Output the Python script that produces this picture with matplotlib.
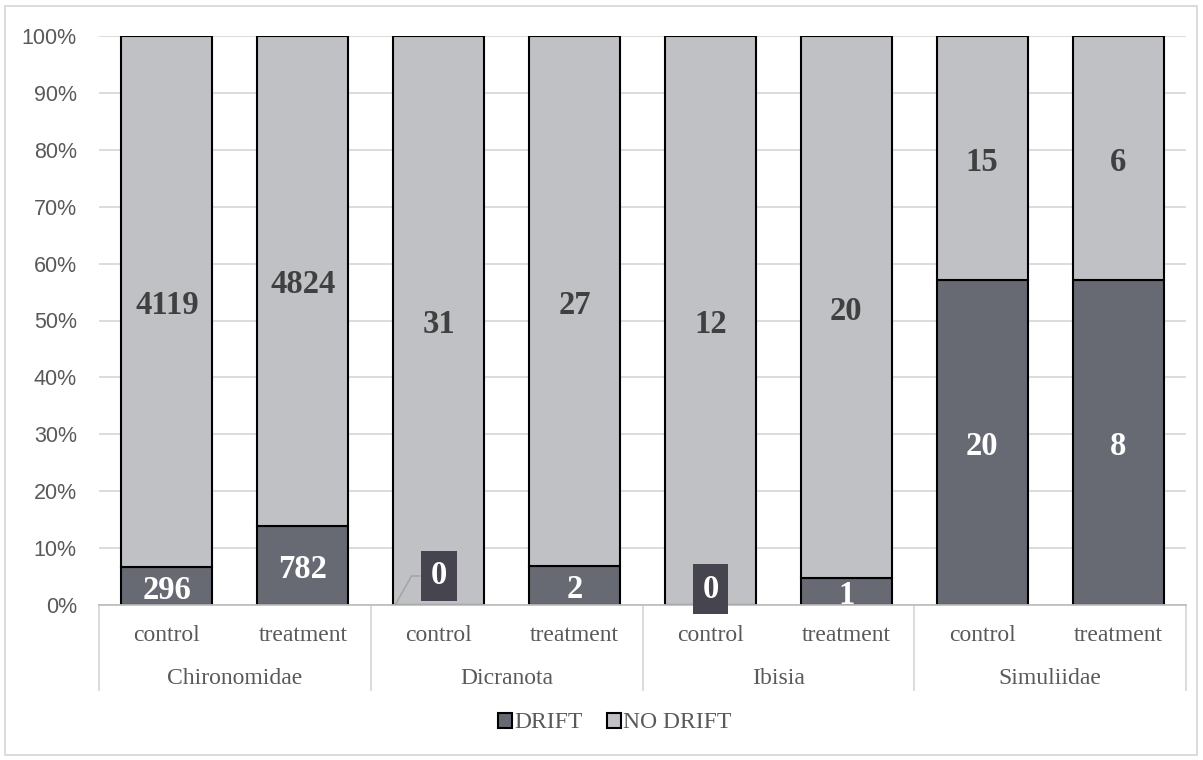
import numpy as np
import matplotlib.pyplot as plt
from matplotlib.patches import Rectangle

# dados
groups = ["Chironomidae", "Dicranota", "Ibisia", "Simuliidae"]
treats = ["control", "treatment"]
drift = [296, 782, 0, 2, 0, 1, 20, 8]
no_drift = [4119, 4824, 31, 27, 12, 20, 15, 6]

drift = np.array(drift, dtype=float)
no_drift = np.array(no_drift, dtype=float)
tot = drift + no_drift
p_drift = drift / tot * 100
p_no = no_drift / tot * 100

c_drift = '#676A72'
c_no = '#C0C1C4'
c_box = '#45444F'
grey_txt = '#595959'

fig = plt.figure(figsize=(12.03, 7.6), dpi=100)
ax = fig.add_axes([99/1203, 155/760, 1087/1203, 569/760])

x = np.arange(len(drift))
w = 0.67
ax.bar(x, p_drift, w, color=c_drift, edgecolor='black', linewidth=1.5, label='DRIFT', zorder=3)
ax.bar(x, p_no, w, bottom=p_drift, color=c_no, edgecolor='black', linewidth=1.5, label='NO DRIFT', zorder=3)

ax.set_xlim(-0.5, 7.5)
ax.set_ylim(0, 100)
ax.set_yticks(np.arange(0, 101, 10))
ax.set_yticklabels([f"{v}%" for v in range(0, 101, 10)], family='Liberation Sans', fontsize=15.5, color=grey_txt)
ax.tick_params(axis='y', length=0, pad=16)
ax.tick_params(axis='x', length=0, labelbottom=False)
ax.grid(axis='y', color='#D9D9D9', linewidth=1.3, zorder=0)
for s in ['top', 'right', 'left']:
    ax.spines[s].set_visible(False)
ax.spines['bottom'].set_color('#BFBFBF')
ax.spines['bottom'].set_linewidth(1.3)
ax.spines['bottom'].set_zorder(4)

# eixo de categorias em dois niveis
tr = ax.get_xaxis_transform()
for xs in [-0.5, 1.5, 3.5, 5.5, 7.5]:
    ax.plot([xs, xs], [0, -0.15], transform=tr, color='#D9D9D9', linewidth=1.3, clip_on=False)
for i in x:
    ax.text(i, -0.053, treats[i % 2], transform=tr, ha='center', va='center',
            family='Liberation Serif', fontsize=17, color=grey_txt)
for j, g in enumerate(groups):
    ax.text(2*j + 0.5, -0.129, g, transform=tr, ha='center', va='center',
            family='Liberation Serif', fontsize=17, color=grey_txt)

# rotulos
lbl = dict(family='Liberation Serif', fontsize=23.5, fontweight='bold', ha='center', va='center')
for i in x:
    ax.annotate(f"{int(no_drift[i])}", (i, p_drift[i] + p_no[i]/2), xytext=(0, -3),
                textcoords='offset points', color='#404040', zorder=5, **lbl)
    if drift[i] > 0:
        ax.annotate(f"{int(drift[i])}", (i, p_drift[i]/2), xytext=(0, -3),
                    textcoords='offset points', color='white', zorder=5, **lbl)

# zeros deslocados
box = dict(boxstyle='square,pad=0.3', facecolor=c_box, edgecolor='none')
ax.text(2, 5.1, "0", color='white', bbox=box, zorder=6, **lbl)
ax.plot([1.68, 1.8, 1.86], [0, 5.1, 5.1], color='#A6A6A6', linewidth=1.2, zorder=5)
ax.text(4, 2.8, "0", color='white', bbox=box, zorder=6, clip_on=False, **lbl)

leg = fig.legend(loc='center', bbox_to_anchor=(0.511, 1 - 723/760), ncol=2, frameon=False,
                 prop={'family': 'Liberation Serif', 'size': 17}, handlelength=0.6, handleheight=0.6,
                 handletextpad=0.1, columnspacing=1.0)
for t in leg.get_texts():
    t.set_color(grey_txt)

fig.patches.append(Rectangle((5/1203, 5/760), 1192/1203, 749/760, transform=fig.transFigure,
                             fill=False, edgecolor='#D9D9D9', linewidth=1.3))

fig.savefig('out.png', dpi=100)
